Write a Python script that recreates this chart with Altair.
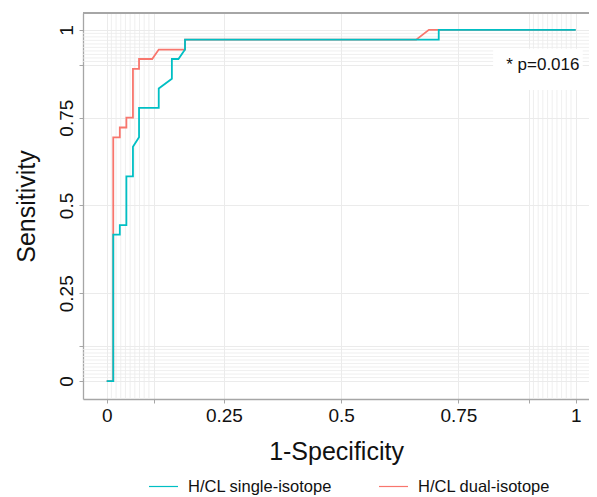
import altair as alt
import pandas as pd

# ---- data ----
series_names = ["H/CL single-isotope", "H/CL dual-isotope"]
series_colors = ["#00BFC4", "#F8766D"]

single_fpr = [0.0, 0.014, 0.014, 0.028, 0.028, 0.042, 0.042, 0.056, 0.056, 0.069, 0.069,
              0.111, 0.111, 0.139, 0.139, 0.153, 0.167, 0.167, 0.708, 0.708, 1.0]
single_tpr = [0.0, 0.0, 0.417, 0.417, 0.444, 0.444, 0.583, 0.583, 0.667, 0.694, 0.778,
              0.778, 0.833, 0.861, 0.917, 0.917, 0.944, 0.972, 0.972, 1.0, 1.0]

dual_fpr = [0.0, 0.014, 0.014, 0.028, 0.028, 0.042, 0.042, 0.056, 0.056, 0.069, 0.069,
            0.097, 0.111, 0.167, 0.167, 0.66, 0.687, 1.0]
dual_tpr = [0.0, 0.0, 0.694, 0.694, 0.722, 0.722, 0.75, 0.75, 0.889, 0.889, 0.917,
            0.917, 0.944, 0.944, 0.972, 0.972, 1.0, 1.0]

tick_values = [0, 0.1, 0.25, 0.5, 0.75, 0.9, 1]
minor_grid = [0.01, 0.02, 0.03, 0.04, 0.05, 0.06, 0.07, 0.08, 0.09,
              0.91, 0.92, 0.93, 0.94, 0.95, 0.96, 0.97, 0.98, 0.99]

annot_text = ["* p=0.016"]
annot_x = [0.93]
annot_y = [0.9]
box_x = [0.824]
box_x2 = [1.015]
box_y = [0.829]
box_y2 = [0.946]

# ---- tables ----
single_df = pd.DataFrame({"fpr": single_fpr, "tpr": single_tpr,
                          "series": series_names[0], "idx": range(len(single_fpr))})
dual_df = pd.DataFrame({"fpr": dual_fpr, "tpr": dual_tpr,
                        "series": series_names[1], "idx": range(len(dual_fpr))})
grid_df = pd.DataFrame({"v": minor_grid})
annot_df = pd.DataFrame({"t": annot_text, "x": annot_x, "y": annot_y})
box_df = pd.DataFrame({"x": box_x, "x2": box_x2, "y": box_y, "y2": box_y2})

FONT = "Liberation Sans"
GRID = "#EBEBEB"
AXC = "#A6A6A6"
W, H = 506, 386

xscale = alt.Scale(domain=[-0.0505, 1.0284], nice=False, zero=False)
yscale = alt.Scale(domain=[-0.051, 1.048], nice=False, zero=False)

label_expr = "datum.value == 0.1 || datum.value == 0.9 ? '' : '' + datum.value"

x_axis = alt.Axis(values=tick_values, labelExpr=label_expr, title="1-Specificity",
                  grid=True, gridColor=GRID, gridWidth=1,
                  domainColor=AXC, domainWidth=1.3, tickColor=AXC, tickSize=4,
                  labelFont=FONT, labelFontSize=19, labelColor="#111",
                  labelPadding=3, labelOverlap=False, labelFlush=False,
                  titleFont=FONT, titleFontSize=25, titleFontWeight="normal",
                  titleColor="#111", titlePadding=14)
y_axis = alt.Axis(values=tick_values, labelExpr=label_expr, title="Sensitivity",
                  grid=True, gridColor=GRID, gridWidth=1,
                  domainColor=AXC, domainWidth=1.3, tickColor=AXC, tickSize=4,
                  labelFont=FONT, labelFontSize=19, labelColor="#111",
                  labelAngle=-90, labelPadding=3, labelOverlap=False, labelFlush=False,
                  titleFont=FONT, titleFontSize=25, titleFontWeight="normal",
                  titleColor="#111", titlePadding=18)

color = alt.Color("series:N",
                  scale=alt.Scale(domain=series_names, range=series_colors),
                  legend=alt.Legend(title=None, orient="none", direction="horizontal",
                                    legendX=65, legendY=458, padding=0,
                                    symbolType="stroke", symbolSize=841,
                                    symbolStrokeWidth=1.2, labelOffset=9,
                                    columnPadding=44, labelFont=FONT,
                                    labelFontSize=16.5, labelColor="#111"))

vgrid = alt.Chart(grid_df).mark_rule(color=GRID, strokeWidth=0.8).encode(
    x=alt.X("v:Q", scale=xscale, axis=x_axis))
hgrid = alt.Chart(grid_df).mark_rule(color=GRID, strokeWidth=0.8).encode(
    y=alt.Y("v:Q", scale=yscale, axis=y_axis))

# top panel border (frame only)
top_border = alt.Chart(grid_df).mark_rule(color=AXC, strokeWidth=1.3).encode(
    x=alt.value(0), x2=alt.value(W), y=alt.value(0))

box = alt.Chart(box_df).mark_rect(fill="white").encode(
    x=alt.X("x:Q", scale=xscale), x2="x2:Q",
    y=alt.Y("y:Q", scale=yscale), y2="y2:Q")

text = alt.Chart(annot_df).mark_text(font=FONT, fontSize=17, color="#111").encode(
    x=alt.X("x:Q", scale=xscale), y=alt.Y("y:Q", scale=yscale), text="t:N")

dual_line = alt.Chart(dual_df).mark_line(strokeWidth=1.8).encode(
    x=alt.X("fpr:Q", scale=xscale), y=alt.Y("tpr:Q", scale=yscale),
    color=color, order="idx:Q")
single_line = alt.Chart(single_df).mark_line(strokeWidth=1.8).encode(
    x=alt.X("fpr:Q", scale=xscale), y=alt.Y("tpr:Q", scale=yscale),
    color=color, order="idx:Q")

chart = alt.layer(vgrid, hgrid, top_border, box, text, dual_line, single_line).properties(
    width=W, height=H,
    autosize=alt.AutoSizeParams(type="none"),
    padding={"left": 75, "top": 5, "right": 0, "bottom": 98},
).configure_view(stroke=None)

chart.save("out.html", embed_options={"renderer": "svg", "actions": False})
